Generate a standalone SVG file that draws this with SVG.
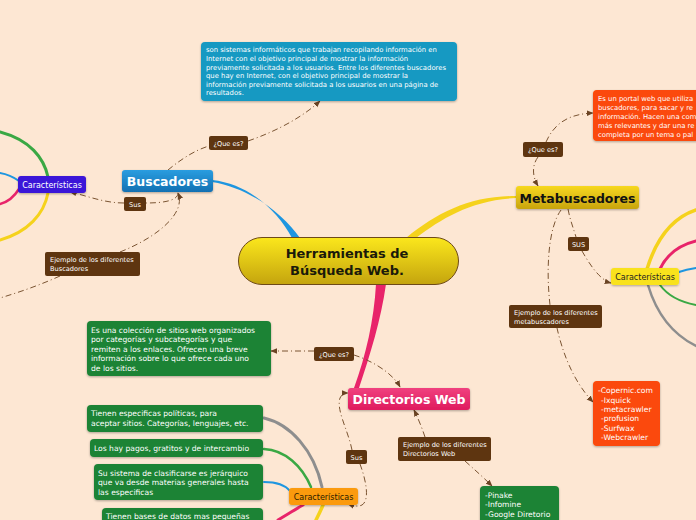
<svg xmlns="http://www.w3.org/2000/svg" width="696" height="520" viewBox="0 0 696 520">
<defs>
<linearGradient id="gCenter" x1="0" y1="0" x2="0" y2="1"><stop offset="0" stop-color="#fbe71c"/><stop offset="1" stop-color="#c4a40e"/></linearGradient>
<linearGradient id="gBlue" x1="0" y1="0" x2="0" y2="1"><stop offset="0" stop-color="#2a9de0"/><stop offset="1" stop-color="#1170b2"/></linearGradient>
<linearGradient id="gYellow" x1="0" y1="0" x2="0" y2="1"><stop offset="0" stop-color="#f7d820"/><stop offset="1" stop-color="#c8a40e"/></linearGradient>
<linearGradient id="gPink" x1="0" y1="0" x2="0" y2="1"><stop offset="0" stop-color="#f0417f"/><stop offset="1" stop-color="#df1a5e"/></linearGradient>
<filter id="sh" x="-10%" y="-10%" width="120%" height="130%"><feDropShadow dx="0" dy="1" stdDeviation="0.8" flood-color="#000" flood-opacity="0.3"/></filter>
<marker id="arr" viewBox="0 0 10 10" refX="9" refY="5" markerWidth="7" markerHeight="7" orient="auto-start-reverse" markerUnits="userSpaceOnUse"><path d="M0,1 L10,5 L0,9 Z" fill="#6b4424"/></marker>
<style>
.rel{fill:none;stroke:#7a5432;stroke-width:1;stroke-dasharray:6 3 1 3}
.lbl{fill:#5e3510}
.lt{font-family:"DejaVu Sans",Verdana,sans-serif;font-size:6.6px;fill:#ffffff}
.dt{font-family:"DejaVu Sans",Verdana,sans-serif;font-size:6.85px;fill:#ffffff}
.st{font-family:"DejaVu Sans",Verdana,sans-serif;font-size:7.6px;fill:#ffffff}
.ct{font-family:"DejaVu Sans",Verdana,sans-serif;font-size:8px}
.big{font-family:"DejaVu Sans",Verdana,sans-serif;font-size:12.5px;font-weight:bold;text-anchor:middle}
.br{fill:none;stroke-linecap:round}
</style>
</defs>
<rect width="696" height="520" fill="#fde7d3"/>

<g id="branches">
<path d="M292,238 C278,212 250,184 212,180 L212,182 C250,188 283,214 300,238 Z" fill="#1e96e0"/>
<path d="M406,238 C438,212 470,196 516,196 L516,198 C472,200 442,218 416,238 Z" fill="#f5d21c"/>
<path d="M376,284 C374,320 366,355 354,388 L359,388 C370,355 381,320 386,284 Z" fill="#e8246a"/>
<path class="br" d="M48,177 C44,158 30,140 0,132" stroke="#3aa844" stroke-width="3"/>
<path class="br" d="M19,181 C12,176 6,174 0,173" stroke="#1e96e0" stroke-width="2"/>
<path class="br" d="M19,189 C14,197 8,202 0,204" stroke="#e8246a" stroke-width="2.5"/>
<path class="br" d="M48,193 C44,214 28,232 0,240" stroke="#f5d21c" stroke-width="3"/>
<path class="br" d="M647,269 C656,240 672,218 696,210" stroke="#f5d21c" stroke-width="3.5"/>
<path class="br" d="M660,269 C667,254 680,245 696,241" stroke="#e8246a" stroke-width="3"/>
<path class="br" d="M679,272 C685,270 690,269 696,268" stroke="#1e96e0" stroke-width="2"/>
<path class="br" d="M660,285 C668,296 680,302 696,305" stroke="#3aa844" stroke-width="2"/>
<path class="br" d="M648,285 C656,312 672,334 696,346" stroke="#8e8e8e" stroke-width="2.5"/>
<path class="br" d="M264,418 C290,424 314,450 322,487" stroke="#8e8e8e" stroke-width="3"/>
<path class="br" d="M264,449 C285,450 302,466 311,487" stroke="#3aa844" stroke-width="2.5"/>
<path class="br" d="M264,482 C278,482 286,486 290,491" stroke="#1e96e0" stroke-width="2"/>
<path class="br" d="M278,520 C288,514 296,509 303,505" stroke="#e8246a" stroke-width="3"/>
<path class="br" d="M316,520 C319,514 321,510 323,505" stroke="#f5d21c" stroke-width="3.5"/>
</g>

<g id="connectors">
<path class="rel" d="M168,170 C180,160 195,150 209,146"/>
<path class="rel" d="M248,141 C280,130 305,115 320,101" marker-end="url(#arr)"/>
<path class="rel" d="M178,193 C178,201 162,203 146,203"/>
<path class="rel" d="M124,203 C104,203 88,196 70,192" marker-end="url(#arr)"/>
<path class="rel" d="M120,252 C160,236 186,212 178,193" marker-end="url(#arr)"/>
<path class="rel" d="M60,276 C40,285 20,292 0,298"/>
<path class="rel" d="M538,157 C532,165 532,176 538,186" marker-end="url(#arr)"/>
<path class="rel" d="M546,142 C555,122 570,114 593,113" marker-end="url(#arr)"/>
<path class="rel" d="M568,209 C570,220 574,230 576,237"/>
<path class="rel" d="M582,251 C590,265 600,280 611,283" marker-end="url(#arr)"/>
<path class="rel" d="M561,210 C548,228 546,270 550,305"/>
<path class="rel" d="M557,328 C562,350 572,380 593,402" marker-end="url(#arr)"/>
<path class="rel" d="M314,351 L271,351" marker-end="url(#arr)"/>
<path class="rel" d="M354,355 C370,360 392,372 400,387" marker-end="url(#arr)"/>
<path class="rel" d="M352,450 C348,430 336,410 340,398 C342,394 345,393 348,393" marker-end="url(#arr)"/>
<path class="rel" d="M360,464 C366,480 370,500 362,505 C358,507 354,506 348,504" marker-end="url(#arr)"/>
<path class="rel" d="M425,437 C422,428 418,418 414,410" marker-end="url(#arr)"/>
<path class="rel" d="M465,461 C475,470 484,478 492,486" marker-end="url(#arr)"/>
</g>

<g id="central">
<rect x="238.5" y="237.5" width="220" height="47" rx="23.5" fill="url(#gCenter)" stroke="#6e4a18" stroke-width="1"/>
<text class="big" x="347" y="258" fill="#1a1a0a" style="font-size:13px">Herramientas de</text>
<text class="big" x="347" y="274.5" fill="#1a1a0a" style="font-size:13px">Búsqueda Web.</text>
</g>

<g id="buscadores">
<rect x="122" y="170" width="91" height="22" rx="3" fill="url(#gBlue)" filter="url(#sh)"/>
<text class="big" x="167.5" y="186" fill="#ffffff">Buscadores</text>
</g>
<g id="busc-quees">
<rect class="lbl" x="209" y="136" width="39" height="14" rx="2"/>
<text class="lt" x="228.5" y="145.5" text-anchor="middle">¿Que es?</text>
</g>
<g id="busc-def">
<rect x="201" y="42" width="256" height="59" rx="4" fill="#1599c2" filter="url(#sh)"/>
<text class="dt" x="206" y="52">son sistemas informáticos que trabajan recopilando información en</text>
<text class="dt" x="206" y="61">Internet con el objetivo principal de mostrar la información</text>
<text class="dt" x="206" y="69.5">previamente solicitada a los usuarios. Entre los diferentes buscadores</text>
<text class="dt" x="206" y="78">que hay en Internet, con el objetivo principal de mostrar la</text>
<text class="dt" x="206" y="86.5">información previamente solicitada a los usuarios en una página de</text>
<text class="dt" x="206" y="95">resultados.</text>
</g>
<g id="busc-sus">
<rect class="lbl" x="124" y="197" width="22" height="14" rx="2"/>
<text class="lt" x="135" y="206.5" text-anchor="middle">Sus</text>
</g>
<g id="busc-car">
<rect x="18" y="176" width="68" height="17" rx="3" fill="#3a12d8" filter="url(#sh)"/>
<text class="ct" x="52" y="187.5" text-anchor="middle" fill="#ffffff">Características</text>
</g>
<g id="busc-ej">
<rect class="lbl" x="45" y="252" width="95" height="24" rx="2"/>
<text class="lt" x="50" y="262">Ejemplo de los diferentes</text>
<text class="lt" x="50" y="271">Buscadores</text>
</g>

<g id="metabuscadores">
<rect x="516" y="186" width="123" height="23" rx="3" fill="url(#gYellow)" filter="url(#sh)"/>
<text class="big" x="577.5" y="203" fill="#111111">Metabuscadores</text>
</g>
<g id="meta-quees">
<rect class="lbl" x="523" y="142" width="40" height="15" rx="2"/>
<text class="lt" x="543" y="152" text-anchor="middle">¿Que es?</text>
</g>
<g id="meta-def">
<rect x="593" y="90" width="110" height="51" rx="4" fill="#fb4a07" filter="url(#sh)"/>
<text class="dt" x="598" y="100.5">Es un portal web que utiliza</text>
<text class="dt" x="598" y="110">buscadores, para sacar y re</text>
<text class="dt" x="598" y="119">información. Hacen una com</text>
<text class="dt" x="598" y="128">más relevantes y dar una re</text>
<text class="dt" x="598" y="137">completa por un tema o pal</text>
</g>
<g id="meta-sus">
<rect class="lbl" x="568" y="237" width="21" height="14" rx="2"/>
<text class="lt" x="578.5" y="246.5" text-anchor="middle">SUS</text>
</g>
<g id="meta-car">
<rect x="611" y="268" width="68" height="17" rx="3" fill="#f9e21c" filter="url(#sh)"/>
<text class="ct" x="645" y="280" text-anchor="middle" fill="#222222">Características</text>
</g>
<g id="meta-ej">
<rect class="lbl" x="509" y="305" width="93" height="23" rx="2"/>
<text class="lt" x="514" y="314.5">Ejemplo de los diferentes</text>
<text class="lt" x="514" y="323.5">metabuscadores</text>
</g>
<g id="meta-list">
<rect x="593" y="381" width="67" height="65" rx="4" fill="#fb4a07" filter="url(#sh)"/>
<text class="st" x="598" y="393">-Copernic.com</text>
<text class="st" x="601" y="402.5">-Ixquick</text>
<text class="st" x="601" y="412">-metacrawler</text>
<text class="st" x="601" y="421">-profusion</text>
<text class="st" x="601" y="430.5">-Surfwax</text>
<text class="st" x="601" y="440">-Webcrawler</text>
</g>

<g id="directorios">
<rect x="348" y="388" width="122" height="22" rx="3" fill="url(#gPink)" filter="url(#sh)"/>
<text class="big" x="409" y="404" fill="#ffffff">Directorios Web</text>
</g>
<g id="dir-quees">
<rect class="lbl" x="314" y="347" width="40" height="14" rx="2"/>
<text class="lt" x="334" y="356.5" text-anchor="middle">¿Que es?</text>
</g>
<g id="dir-def">
<rect x="87" y="321" width="184" height="55" rx="4" fill="#1b8334" filter="url(#sh)"/>
<text class="st" x="91" y="332.5">Es una colección de sitios web organizados</text>
<text class="st" x="91" y="342">por categorías y subcategorías y que</text>
<text class="st" x="91" y="351.5">remiten a los enlaces. Ofrecen una breve</text>
<text class="st" x="91" y="361">información sobre lo que ofrece cada uno</text>
<text class="st" x="91" y="370.5">de los sitios.</text>
</g>
<g id="dir-sus">
<rect class="lbl" x="346" y="450" width="21" height="14" rx="2"/>
<text class="lt" x="356.5" y="459.5" text-anchor="middle">Sus</text>
</g>
<g id="dir-car">
<rect x="289" y="488" width="69" height="17" rx="3" fill="#fb9a08" filter="url(#sh)"/>
<text class="ct" x="323.5" y="500" text-anchor="middle" fill="#2a1a00">Características</text>
</g>
<g id="dir-ej">
<rect class="lbl" x="398" y="437" width="93" height="24" rx="2"/>
<text class="lt" x="403" y="447">Ejemplo de los diferentes</text>
<text class="lt" x="403" y="456">Directorios Web</text>
</g>
<g id="dir-list">
<rect x="480" y="486" width="79" height="40" rx="4" fill="#1b8334" filter="url(#sh)"/>
<text class="st" x="485" y="497.5">-Pinake</text>
<text class="st" x="485" y="507">-Infomine</text>
<text class="st" x="485" y="516.5">-Google Diretorio</text>
</g>
<g id="dir-c1">
<rect x="87" y="405" width="176" height="27" rx="4" fill="#1b8334" filter="url(#sh)"/>
<text class="st" x="91" y="416">Tienen especificas políticas, para</text>
<text class="st" x="91" y="425.5">aceptar sitios. Categorías, lenguajes, etc.</text>
</g>
<g id="dir-c2">
<rect x="90" y="439" width="173" height="18" rx="4" fill="#1b8334" filter="url(#sh)"/>
<text class="st" x="94" y="451">Los hay pagos, gratitos y de intercambio</text>
</g>
<g id="dir-c3">
<rect x="94" y="464" width="169" height="36" rx="4" fill="#1b8334" filter="url(#sh)"/>
<text class="st" x="98" y="475.5">Su sistema de clasificarse es jerárquico</text>
<text class="st" x="98" y="485">que va desde materias generales hasta</text>
<text class="st" x="98" y="494.5">las especificas</text>
</g>
<g id="dir-c4">
<rect x="102" y="508" width="161" height="24" rx="4" fill="#1b8334" filter="url(#sh)"/>
<text class="st" x="106" y="519">Tienen bases de datos mas pequeñas</text>
</g>
</svg>
